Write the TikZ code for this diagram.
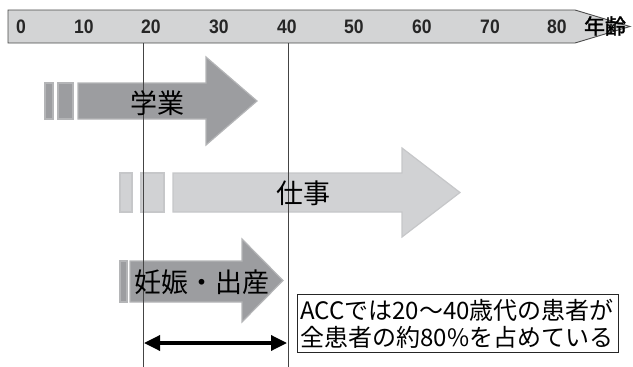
\documentclass[tikz,border=0pt]{standalone}
\usepackage{fontspec}
\newfontfamily\jp{Noto Sans CJK JP}
\newfontfamily\jpbold[FakeBold=1.5]{Noto Sans CJK JP}
\newfontfamily\numf[FakeStretch=0.9]{Liberation Sans}
\usetikzlibrary{arrows.meta}
\definecolor{axisfill}{HTML}{D3D4D5}
\definecolor{axisline}{HTML}{4A4A4A}
\definecolor{darkfill}{HTML}{9C9DA0}
\definecolor{darkedge}{HTML}{B4B5B7}
\definecolor{lightfill}{HTML}{D1D2D4}
\definecolor{lightedge}{HTML}{C6C7C9}
\definecolor{vline}{HTML}{444444}
\tikzset{
  axisbar/.style={fill=axisfill, draw=axisline, line width=0.9pt},
  darkarrow/.style={fill=darkfill, draw=darkedge, line width=1.2pt},
  lightarrow/.style={fill=lightfill, draw=lightedge, line width=1.2pt},
  agenum/.style={font=\numf\bfseries\fontsize{19.5}{22}\selectfont, inner sep=0pt, text=black!85},
  agelabel/.style={font=\jpbold\fontsize{21}{23}\selectfont, inner sep=0pt},
  arrowtext/.style={font=\jp\fontsize{27}{30}\selectfont, inner sep=0pt},
  guide/.style={draw=vline, line width=0.8pt},
  span/.style={line width=3.4pt, {Triangle[length=16pt,width=15pt]}-{Triangle[length=16pt,width=15pt]}},
  notebox/.style={draw=black!85, line width=0.8pt, anchor=north west, minimum width=321pt, minimum height=58pt, inner xsep=3pt, inner ysep=2pt, align=left, text width=315pt, font=\jp\fontsize{24}{27}\selectfont}
}
\begin{document}
\begin{tikzpicture}[x=1pt,y=-1pt]
\useasboundingbox (0,0) rectangle (633,367);
% age axis
\draw[axisbar] (8,10) -- (575,10) -- (630,26.5) -- (575,43) -- (8,43) -- cycle;
\foreach \lab/\xx in {0/21,10/84,20/151,30/219,40/287,50/354,60/422,70/490,80/557}
  \node[agenum] (n\lab) at (\xx,27) {\lab};
\node[agelabel] (age) at (605,26) {年齢};
% 学業
\draw[darkarrow] (45,83) rectangle (53,119);
\draw[darkarrow] (58,83) rectangle (73,119);
\draw[darkarrow] (78,83) -- (206,83) -- (206,57) -- (257,101) -- (206,145) -- (206,119) -- (78,119) -- cycle;
% 仕事
\draw[lightarrow] (120,173) rectangle (132,212);
\draw[lightarrow] (141,173) rectangle (164,212);
\draw[lightarrow] (173,173) -- (402,173) -- (402,148) -- (460,192.5) -- (402,237) -- (402,212) -- (173,212) -- cycle;
% 妊娠・出産
\draw[darkarrow] (120,261) rectangle (127,302);
\draw[darkarrow] (130,261) -- (242,261) -- (242,239) -- (283,280.5) -- (242,322) -- (242,302) -- (130,302) -- cycle;
% guide lines
\coordinate (g20top) at (143,43);
\coordinate (g20bot) at (143,367);
\coordinate (g40top) at (288,43);
\coordinate (g40bot) at (288,367);
\draw[guide] (g20top) -- (g20bot);
\draw[guide] (g40top) -- (g40bot);
% labels
\node[arrowtext] (study) at (157,103) {学業};
\node[arrowtext] (work) at (303,193) {仕事};
\node[arrowtext] (preg) at (202,282) {妊娠・出産};
% span arrow
\coordinate (s20) at (144,343);
\coordinate (s40) at (287,343);
\draw[span] (s20) -- (s40);
% note
\node[notebox] (note) at (297,294) {ACCでは20～40歳代の患者が\\全患者の約80\%を占めている};
\end{tikzpicture}
\end{document}
